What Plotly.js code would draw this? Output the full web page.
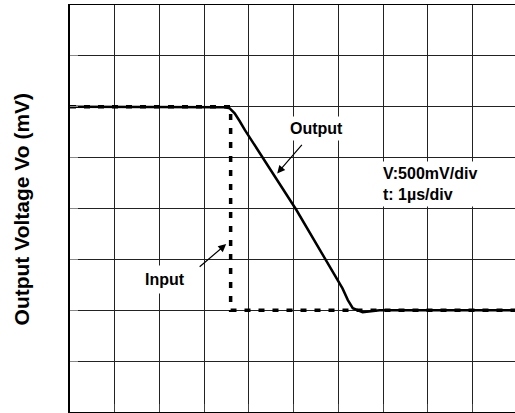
<!DOCTYPE html>
<html>
<head>
<meta charset="utf-8">
<script src="https://cdn.plot.ly/plotly-3.0.1.min.js"></script>
<style>
html, body { margin: 0; padding: 0; background: #fff; overflow: hidden; }
#chart { width: 515px; height: 413px; }
</style>
</head>
<body>
<div id="chart"></div>
<script>
// Time in divisions (1 µs/div), voltage in divisions (500 mV/div)
const inputX = [0, 3.59, 3.59, 10];
const inputY = [6, 6, 2, 2];
const outputX = [0, 3.24, 3.46, 3.57, 3.68, 3.79, 3.91, 5.06, 5.99, 6.09, 6.21, 6.32, 6.54, 6.74, 6.92, 10];
const outputY = [6, 6, 5.99, 5.97, 5.87, 5.72, 5.54, 3.97, 2.59, 2.43, 2.2, 2.04, 1.96, 1.98, 2.0, 2.0];
const yTitle = 'Output Voltage Vo (mV)';
const scaleText = ['V:500mV/div', 't: 1µs/div'];

const FONT = 'Liberation Sans, Arial, sans-serif';

const traces = [
  { x: inputX, y: inputY, mode: 'lines', name: 'Input',
    line: { color: '#000', width: 3.5, dash: '6px,8px' }, hoverinfo: 'skip' },
  { x: outputX, y: outputY, mode: 'lines', name: 'Output',
    line: { color: '#000', width: 2.5 }, hoverinfo: 'skip' }
];

const layout = {
  width: 515, height: 413,
  margin: { l: 70, r: 0, t: 5, b: 1 },
  paper_bgcolor: '#fff', plot_bgcolor: '#fff',
  showlegend: false,
  font: { family: FONT, color: '#000' },
  xaxis: {
    range: [0, 9.945], tick0: 0, dtick: 1,
    showticklabels: false, ticks: 'inside', ticklen: 8, tickcolor: '#444',
    showgrid: true, gridcolor: '#222', gridwidth: 1, zeroline: false,
    showline: true, linecolor: '#000', linewidth: 1.5, mirror: true,
    fixedrange: true
  },
  yaxis: {
    range: [0, 8], tick0: 0, dtick: 1,
    showticklabels: false, ticks: 'inside', ticklen: 8, tickcolor: '#888',
    showgrid: true, gridcolor: '#222', gridwidth: 1, zeroline: false,
    showline: true, linecolor: '#000', linewidth: 2, mirror: false,
    fixedrange: true
  },
  annotations: [
    { xref: 'paper', yref: 'paper', x: -0.108, y: 0.5, xanchor: 'center', yanchor: 'middle',
      textangle: -90, showarrow: false, text: '<b>' + yTitle + '</b>',
      font: { family: FONT, size: 21, color: '#000' } },
    { x: 5.51, y: 5.57, showarrow: false, text: '<b>Output</b>', bgcolor: '#fff', borderpad: 3,
      font: { family: FONT, size: 16, color: '#000' } },
    { x: 4.63, y: 4.69, ax: 26, ay: -30, text: '', showarrow: true,
      arrowhead: 2, arrowsize: 1.3, arrowwidth: 1.2, arrowcolor: '#000' },
    { x: 2.13, y: 2.61, showarrow: false, text: '<b>Input</b>', bgcolor: '#fff', borderpad: 5,
      font: { family: FONT, size: 16, color: '#000' } },
    { x: 3.49, y: 3.30, ax: -28, ay: 24, text: '', showarrow: true,
      arrowhead: 2, arrowsize: 1.3, arrowwidth: 1.2, arrowcolor: '#000' },
    { x: 6.90, y: 4.49, xanchor: 'left', yanchor: 'middle', align: 'left', showarrow: false,
      text: '<b>' + scaleText.join('<br>') + '</b>', bgcolor: '#fff', borderpad: 3,
      font: { family: FONT, size: 16, color: '#000' } }
  ]
};

Plotly.newPlot('chart', traces, layout, { staticPlot: true, displayModeBar: false });
</script>
</body>
</html>
